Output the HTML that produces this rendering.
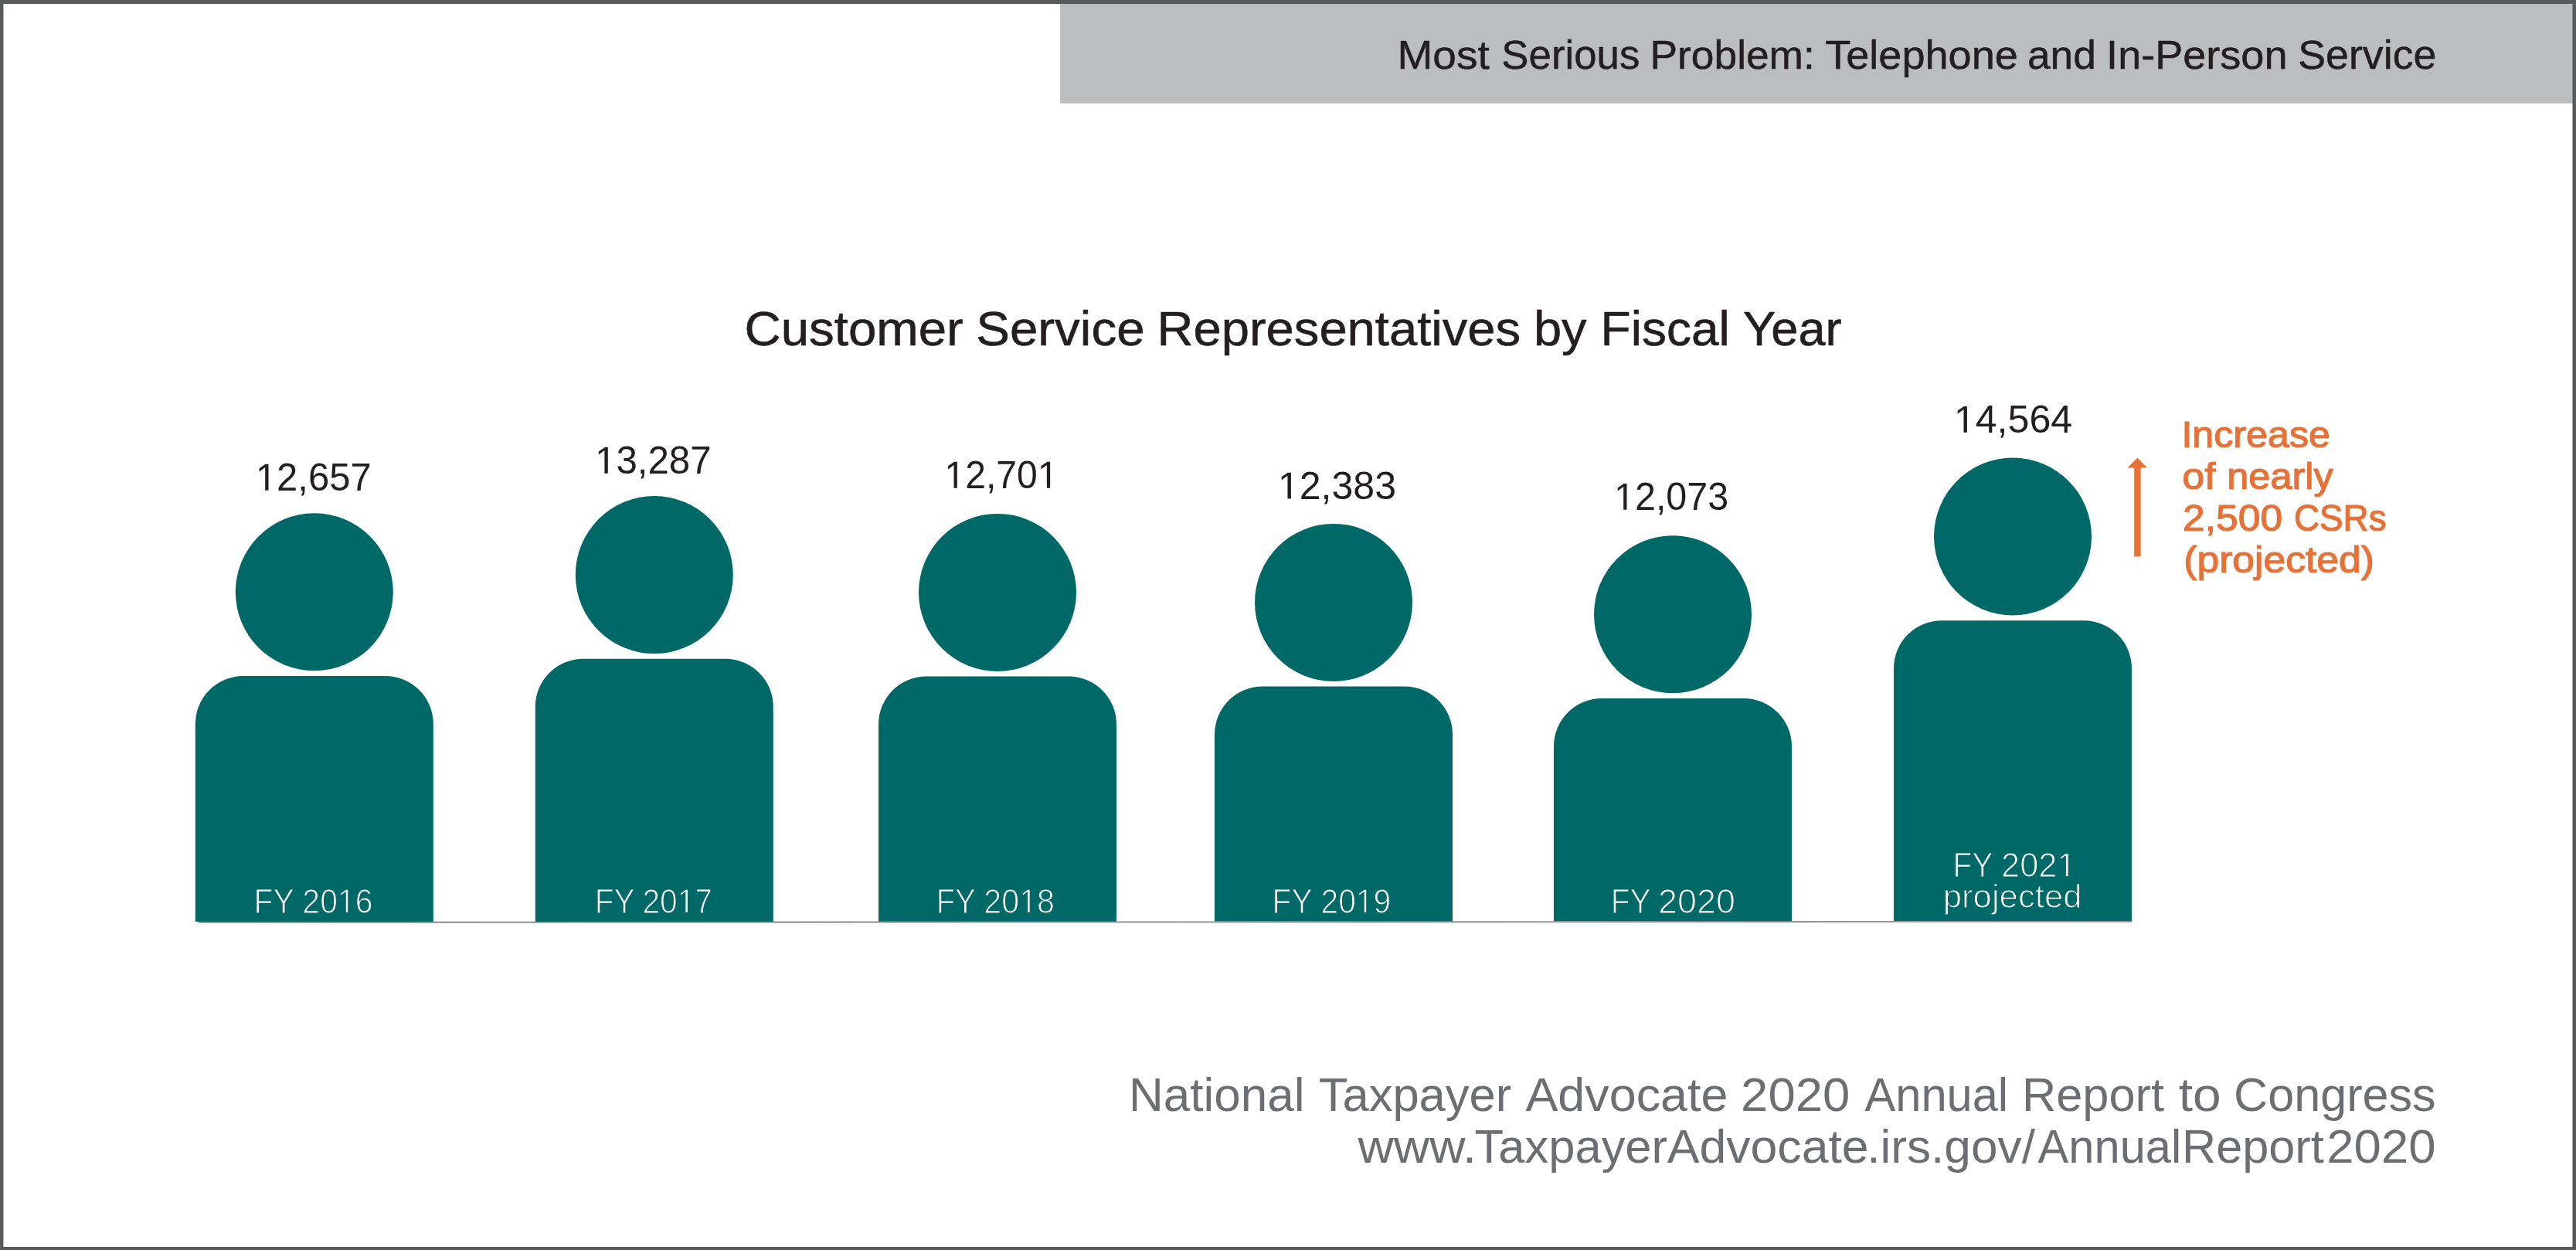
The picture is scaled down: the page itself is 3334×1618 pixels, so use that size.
<!DOCTYPE html>
<html lang="en"><head><meta charset="utf-8"><title>Customer Service Representatives by Fiscal Year</title>
<style>html,body{margin:0;padding:0;background:#fff;}body{width:3334px;height:1618px;overflow:hidden;font-family:"Liberation Sans",sans-serif;}svg{display:block;will-change:transform;}text{font-family:"Liberation Sans",sans-serif;white-space:pre;}</style></head><body>
<svg width="3334" height="1618" viewBox="0 0 3334 1618">
<rect x="0" y="0" width="3334" height="1618" fill="#ffffff"/>
<rect x="1372.1" y="0" width="1961.9" height="133.8" fill="#bcbdbf"/>
<path fill-rule="evenodd" fill="#58595b" d="M0 0H3334 V1618 H0Z M4.4 5.1 V1614 H3329.5 V5.1Z"/>
<path fill="#959595" d="M257.2 1192.9 L2759 1191.9 V1194 L257.2 1195 Z"/>
<circle cx="406.8" cy="766.3" r="102.0" fill="#006867"/>
<path fill="#006867" d="M252.8 1193.0 V937.0 A62 62 0 0 1 314.8 875.0 H498.8 A62 62 0 0 1 560.8 937.0 V1193.0 Z"/>
<circle cx="846.8" cy="744.1" r="102.0" fill="#006867"/>
<path fill="#006867" d="M692.8 1193.0 V914.8 A62 62 0 0 1 754.8 852.8 H938.8 A62 62 0 0 1 1000.8 914.8 V1193.0 Z"/>
<circle cx="1291.0" cy="766.9" r="102.0" fill="#006867"/>
<path fill="#006867" d="M1137.0 1192.8 V937.6 A62 62 0 0 1 1199.0 875.6 H1383.0 A62 62 0 0 1 1445.0 937.6 V1192.8 Z"/>
<circle cx="1726.0" cy="779.9" r="102.0" fill="#006867"/>
<path fill="#006867" d="M1572.0 1192.6 V950.6 A62 62 0 0 1 1634.0 888.6 H1818.0 A62 62 0 0 1 1880.0 950.6 V1192.6 Z"/>
<circle cx="2165.0" cy="795.3" r="102.0" fill="#006867"/>
<path fill="#006867" d="M2011.0 1192.2 V966.0 A62 62 0 0 1 2073.0 904.0 H2257.0 A62 62 0 0 1 2319.0 966.0 V1192.2 Z"/>
<circle cx="2605.0" cy="694.5" r="102.0" fill="#006867"/>
<path fill="#006867" d="M2451.0 1192.0 V865.2 A62 62 0 0 1 2513.0 803.2 H2697.0 A62 62 0 0 1 2759.0 865.2 V1192.0 Z"/>
<path fill="#e67238" d="M2766.4 592.6 L2778.9 605.6 H2770.6 V720.6 H2762.2 V605.6 H2753.5 Z"/>
<g font-size="51.89" fill="#231f20" stroke="#231f20" stroke-width="0.50" stroke-linejoin="round">
<text transform="translate(1808.46 88.75) scale(1.0605 1)">Most </text>
<text transform="translate(1943.31 88.75) scale(1.0180 1)">Serious </text>
<text transform="translate(2135.59 88.75) scale(1.0271 1)">Problem: </text>
<text transform="translate(2362.16 88.75) scale(1.0425 1)">Telephone </text>
<text transform="translate(2623.95 88.75) scale(1.0258 1)">and </text>
<text transform="translate(2726.11 88.75) scale(1.0421 1)">In-Person </text>
<text transform="translate(2974.27 88.75) scale(1.0353 1)">Service</text>
</g>
<g font-size="63.37" fill="#231f20" stroke="#231f20" stroke-width="0.60" stroke-linejoin="round">
<text transform="translate(963.46 446.70) scale(1.0319 1)">Customer </text>
<text transform="translate(1263.21 446.70) scale(1.0335 1)">Service </text>
<text transform="translate(1497.41 446.70) scale(1.0281 1)">Representatives </text>
<text transform="translate(1984.90 446.70) scale(1.0260 1)">by </text>
<text transform="translate(2071.60 446.70) scale(1.0102 1)">Fiscal </text>
<text transform="translate(2255.90 446.70) scale(0.9976 1)">Year</text>
</g>
<g font-size="49.27" fill="#231f20">
<g transform="translate(330.88 634.70) scale(0.9937 1)">
<path d="M12.39 0.00 L12.39 -29.76 L4.74 -24.30 L4.74 -28.39 L12.75 -33.90 L16.74 -33.90 L16.74 0.00Z"><title>1</title></path>
<text x="27.40">2,657</text>
</g>
</g>
<g font-size="49.27" fill="#231f20">
<g transform="translate(770.05 612.80) scale(0.9993 1)">
<path d="M12.39 0.00 L12.39 -29.76 L4.74 -24.30 L4.74 -28.39 L12.75 -33.90 L16.74 -33.90 L16.74 0.00Z"><title>1</title></path>
<text x="27.40">3,287</text>
</g>
</g>
<g font-size="49.27" fill="#231f20">
<g transform="translate(1222.46 631.70) scale(0.9760 1)">
<path d="M12.39 0.00 L12.39 -29.76 L4.74 -24.30 L4.74 -28.39 L12.75 -33.90 L16.74 -33.90 L16.74 0.00Z"><title>1</title></path>
<text x="27.40">2,70</text>
<path d="M135.67 0.00 L135.67 -29.76 L128.02 -24.30 L128.02 -28.39 L136.03 -33.90 L140.03 -33.90 L140.03 0.00Z"><title>1</title></path>
</g>
</g>
<g font-size="49.27" fill="#231f20">
<g transform="translate(1653.87 645.60) scale(1.0163 1)">
<path d="M12.39 0.00 L12.39 -29.76 L4.74 -24.30 L4.74 -28.39 L12.75 -33.90 L16.74 -33.90 L16.74 0.00Z"><title>1</title></path>
<text x="27.40">2,383</text>
</g>
</g>
<g font-size="49.27" fill="#231f20">
<g transform="translate(2089.03 659.80) scale(0.9830 1)">
<path d="M12.39 0.00 L12.39 -29.76 L4.74 -24.30 L4.74 -28.39 L12.75 -33.90 L16.74 -33.90 L16.74 0.00Z"><title>1</title></path>
<text x="27.40">2,073</text>
</g>
</g>
<g font-size="49.27" fill="#231f20">
<g transform="translate(2528.87 559.80) scale(1.0173 1)">
<path d="M12.39 0.00 L12.39 -29.76 L4.74 -24.30 L4.74 -28.39 L12.75 -33.90 L16.74 -33.90 L16.74 0.00Z"><title>1</title></path>
<text x="27.40">4,564</text>
</g>
</g>
<g font-size="44.19" fill="#ffffff" stroke="#006867" stroke-width="1.20" stroke-linejoin="round">
<text transform="translate(328.58 1181.60) scale(0.9249 1)">FY </text>
<g transform="translate(391.36 1181.60) scale(0.9267 1)">
<text x="0.00">20</text>
<path d="M60.26 0.00 L60.26 -26.69 L53.40 -21.79 L53.40 -25.46 L60.59 -30.40 L64.17 -30.40 L64.17 0.00Z"><title>1</title></path>
<text x="73.72">6</text>
</g>
</g>
<g font-size="44.19" fill="#ffffff" stroke="#006867" stroke-width="1.20" stroke-linejoin="round">
<text transform="translate(769.68 1181.60) scale(0.9189 1)">FY </text>
<g transform="translate(831.38 1181.60) scale(0.9206 1)">
<text x="0.00">20</text>
<path d="M60.26 0.00 L60.26 -26.69 L53.40 -21.79 L53.40 -25.46 L60.59 -30.40 L64.17 -30.40 L64.17 0.00Z"><title>1</title></path>
<text x="73.72">7</text>
</g>
</g>
<g font-size="44.19" fill="#ffffff" stroke="#006867" stroke-width="1.20" stroke-linejoin="round">
<text transform="translate(1211.66 1181.60) scale(0.9055 1)">FY </text>
<g transform="translate(1273.34 1181.60) scale(0.9328 1)">
<text x="0.00">20</text>
<path d="M60.26 0.00 L60.26 -26.69 L53.40 -21.79 L53.40 -25.46 L60.59 -30.40 L64.17 -30.40 L64.17 0.00Z"><title>1</title></path>
<text x="73.72">8</text>
</g>
</g>
<g font-size="44.19" fill="#ffffff" stroke="#006867" stroke-width="1.20" stroke-linejoin="round">
<text transform="translate(1646.61 1181.60) scale(0.9181 1)">FY </text>
<g transform="translate(1709.57 1181.60) scale(0.9224 1)">
<text x="0.00">20</text>
<path d="M60.26 0.00 L60.26 -26.69 L53.40 -21.79 L53.40 -25.46 L60.59 -30.40 L64.17 -30.40 L64.17 0.00Z"><title>1</title></path>
<text x="73.72">9</text>
</g>
</g>
<g font-size="44.19" fill="#ffffff" stroke="#006867" stroke-width="1.20" stroke-linejoin="round">
<text transform="translate(2084.68 1181.60) scale(0.9189 1)">FY </text>
<text transform="translate(2146.11 1181.60) scale(1.0145 1)">2020</text>
</g>
<g font-size="44.19" fill="#ffffff" stroke="#006867" stroke-width="1.20" stroke-linejoin="round">
<text transform="translate(2527.39 1134.80) scale(0.9212 1)">FY </text>
<g transform="translate(2590.10 1134.80) scale(0.9812 1)">
<text x="0.00">202</text>
<path d="M84.84 0.00 L84.84 -26.69 L77.98 -21.79 L77.98 -25.46 L85.16 -30.40 L88.74 -30.40 L88.74 0.00Z"><title>1</title></path>
</g>
</g>
<g font-size="42.00" fill="#ffffff" stroke="#006867" stroke-width="1.20" stroke-linejoin="round">
<text transform="translate(2514.71 1174.50) scale(1.0407 1)">projected</text>
</g>
<g font-size="47.82" fill="#e67238" stroke="#e67238" stroke-width="1.20" stroke-linejoin="round">
<text transform="translate(2823.40 579.20) scale(1.0503 1)">Increase</text>
</g>
<g font-size="47.82" fill="#e67238" stroke="#e67238" stroke-width="1.20" stroke-linejoin="round">
<text transform="translate(2824.60 633.00) scale(1.0740 1)">of </text>
<text transform="translate(2882.30 633.00) scale(1.0559 1)">nearly</text>
</g>
<g font-size="47.82" fill="#e67238" stroke="#e67238" stroke-width="1.20" stroke-linejoin="round">
<text transform="translate(2825.05 687.10) scale(1.0786 1)">2,500 </text>
<text transform="translate(2968.88 687.10) scale(0.9589 1)">CSRs</text>
</g>
<g font-size="47.82" fill="#e67238" stroke="#e67238" stroke-width="1.20" stroke-linejoin="round">
<text transform="translate(2826.31 741.30) scale(1.0791 1)">(projected)</text>
</g>
<g font-size="61.19" fill="#6d6e71">
<text transform="translate(1461.03 1437.70) scale(1.0137 1)">National </text>
<text transform="translate(1706.69 1437.70) scale(1.0055 1)">Taxpayer </text>
<text transform="translate(1974.44 1437.70) scale(1.0270 1)">Advocate </text>
<text transform="translate(2253.09 1437.70) scale(1.0371 1)">2020 </text>
<text transform="translate(2413.46 1437.70) scale(0.9745 1)">Annual </text>
<text transform="translate(2616.99 1437.70) scale(1.0020 1)">Report </text>
<text transform="translate(2819.72 1437.70) scale(1.0758 1)">to </text>
<text transform="translate(2891.00 1437.70) scale(0.9992 1)">Congress</text>
</g>
<g font-size="60.90" fill="#6d6e71">
<text transform="translate(1757.50 1504.50) scale(1.0536 1)">www.</text>
<text transform="translate(1908.54 1504.50) scale(1.0100 1)">Taxpayer</text>
<text transform="translate(2157.64 1504.50) scale(1.0283 1)">Advocate</text>
<text transform="translate(2416.18 1504.50) scale(1.0214 1)">.irs.gov/</text>
<text transform="translate(2637.56 1504.50) scale(0.9798 1)">Annual </text>
<text transform="translate(2823.97 1504.50) scale(1.0054 1)">Report </text>
<text transform="translate(3011.27 1504.50) scale(1.0431 1)">2020</text>
</g>
</svg></body></html>
